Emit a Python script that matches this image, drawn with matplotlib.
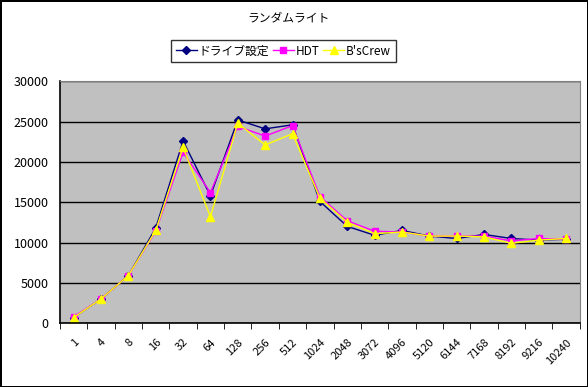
import numpy as np
import matplotlib.pyplot as plt

plt.rcParams['font.family'] = ['Noto Sans CJK JP', 'DejaVu Sans']

# データ
sizes = ["1", "4", "8", "16", "32", "64", "128", "256", "512", "1024", "2048",
         "3072", "4096", "5120", "6144", "7168", "8192", "9216", "10240"]
drive = [700, 3000, 5900, 11800, 22600, 15800, 25200, 24100, 24600, 15100, 12000,
         10900, 11500, 10800, 10500, 11000, 10500, 10300, 10400]
hdt = [800, 3000, 5900, 11400, 21200, 16200, 24400, 23200, 24500, 15700, 12700,
       11400, 11300, 10800, 10800, 10800, 10200, 10500, 10400]
bscrew = [700, 3000, 5900, 11500, 21800, 13200, 24800, 22100, 23500, 15500, 12500,
          11100, 11300, 10800, 10800, 10700, 9900, 10300, 10500]

fig = plt.figure(figsize=(5.88, 3.87), dpi=100)
fig.patch.set_edgecolor('black')
fig.patch.set_linewidth(2)
ax = fig.add_axes([0.102, 0.165, 0.884, 0.625])
ax.set_facecolor('#C0C0C0')

x = np.arange(len(sizes))
l1, = ax.plot(x, drive, color='#000080', marker='D', markersize=4.5, lw=1, label='ドライブ設定')
l2, = ax.plot(x, hdt, color='#FF00FF', marker='s', markersize=5, lw=1, label='HDT')
l3, = ax.plot(x, bscrew, color='#FFFF00', marker='^', markersize=6, lw=1, label="B'sCrew")

ax.set_xlim(-0.5, len(sizes) - 0.5)
ax.set_ylim(0, 30000)
ax.set_yticks(range(0, 30001, 5000))
ax.yaxis.grid(True, color='black', lw=1)
ax.set_axisbelow(True)
ax.tick_params(axis='y', length=0, labelsize=9, pad=8)

ax.set_xticks(x)
ax.set_xticklabels(sizes, rotation=45, ha='right', rotation_mode='anchor', fontsize=8)
ax.set_xticks(np.arange(-0.5, len(sizes), 1), minor=True)
ax.tick_params(axis='x', which='major', length=0, pad=10)
ax.tick_params(axis='x', which='minor', length=4, direction='out', color='black')

for s in ['top', 'right']:
    ax.spines[s].set_color('#808080')
for s in ['left', 'bottom']:
    ax.spines[s].set_color('black')
    ax.spines[s].set_linewidth(1.2)

fig.text(0.49, 0.953, 'ランダムライト', ha='center', va='center', fontsize=8.5)
leg = fig.legend(handles=[l1, l2, l3], loc='center', bbox_to_anchor=(0.482, 0.868),
                 ncol=3, fontsize=8.5, frameon=True, fancybox=False, handlelength=1.8,
                 handletextpad=0.15, columnspacing=0.3, borderpad=0.4,
                 borderaxespad=0)
leg.get_frame().set_edgecolor('black')
leg.get_frame().set_linewidth(1)

fig.savefig('out.png', dpi=100, edgecolor=fig.get_edgecolor())
